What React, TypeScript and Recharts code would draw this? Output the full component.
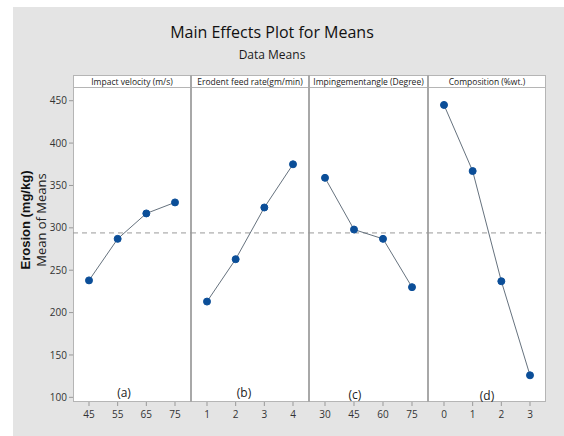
import React from 'react';
import { LineChart, Line, XAxis, YAxis, ReferenceLine } from 'recharts';

// factor levels and means
const velocityLevels = ['45', '55', '65', '75'];
const velocityMeans = [238, 287, 317, 330];

const feedLevels = ['1', '2', '3', '4'];
const feedMeans = [213, 263, 324, 375];

const angleLevels = ['30', '45', '60', '75'];
const angleMeans = [359, 298, 287, 230];

const compLevels = ['0', '1', '2', '3'];
const compMeans = [445, 367, 237, 126];

const factorNames = [
  'Impact velocity (m/s)',
  'Erodent feed rate(gm/min)',
  'Impingementangle (Degree)',
  'Composition (%wt.)',
];
const panelTags = ['(a)', '(b)', '(c)', '(d)'];
const grandMean = 294;
const yTicks = [100, 150, 200, 250, 300, 350, 400, 450];
const yDomain = [94.5, 465];

const panels = [
  { levels: velocityLevels, means: velocityMeans },
  { levels: feedLevels, means: feedMeans },
  { levels: angleLevels, means: angleMeans },
  { levels: compLevels, means: compMeans },
];

const edges = [73, 191, 309, 428, 546];
const plotTop = 88;
const plotBottom = 402;
const tagPos = [
  { x: 124, y: 393 },
  { x: 244, y: 393 },
  { x: 355, y: 395 },
  { x: 487, y: 396 },
];

const font = '"Open Sans", "Noto Sans", sans-serif';
const tickStyle = { fontSize: 10, fill: '#333', fontFamily: font };

const Panel = ({ idx }: { idx: number }) => {
  const p = panels[idx];
  const data = p.levels.map((l, i) => ({ x: l, y: p.means[i] }));
  const first = idx === 0;
  const yW = first ? 60 : 0;
  const w = edges[idx + 1] - edges[idx] + yW;
  return (
    <div style={{ position: 'absolute', left: edges[idx] - yW, top: plotTop }}>
      <LineChart width={w} height={436 - plotTop} data={data} margin={{ top: 0, right: 0, bottom: 0, left: 0 }}>
        <XAxis
          dataKey="x"
          height={436 - plotBottom}
          padding={{ left: 16, right: 16 }}
          axisLine={false}
          tickSize={4}
          tickMargin={5}
          tickLine={{ stroke: '#999' }}
          tick={tickStyle}
          interval={0}
        />
        <YAxis
          hide={!first}
          width={yW}
          domain={yDomain}
          ticks={yTicks}
          allowDataOverflow
          axisLine={false}
          tickSize={4}
          tickMargin={2}
          tickLine={{ stroke: '#999' }}
          tick={tickStyle}
        />
        <ReferenceLine y={grandMean} stroke="#999" strokeDasharray="5 4" />
        <Line
          type="linear"
          dataKey="y"
          stroke="#66727e"
          strokeWidth={1}
          dot={{ r: 3.5, fill: '#0b4e98', stroke: '#0b4e98', strokeWidth: 1 }}
          isAnimationActive={false}
        />
      </LineChart>
    </div>
  );
};

export default function App() {
  return (
    <div style={{ position: 'absolute', left: 0, top: 0, width: 564, height: 436, background: '#fff', overflow: 'hidden' }}>
      <div style={{ position: 'absolute', left: 13, top: 7, width: 551, height: 429, background: '#e4e4e4' }} />
      {/* header strip + plot frame */}
      <div style={{ position: 'absolute', left: 73, top: 75, width: 546 - 73, height: 13, background: '#fff', border: '1px solid #b5b5b5', boxSizing: 'border-box' }} />
      <div style={{ position: 'absolute', left: 73, top: plotTop - 1, width: 546 - 73, height: plotBottom - plotTop + 1, background: '#fff', border: '1px solid #b5b5b5', boxSizing: 'border-box' }} />
      {edges.slice(1, 4).map((x) => (
        <div key={x} style={{ position: 'absolute', left: x - 1, top: 75, width: 1.5, height: plotBottom - 75, background: '#a8a8a8' }} />
      ))}
      {factorNames.map((n, i) => (
        <div
          key={n}
          style={{
            position: 'absolute', left: edges[i], top: 75, width: edges[i + 1] - edges[i], height: 13,
            textAlign: 'center', fontFamily: font, fontSize: 8.5, lineHeight: '13px', color: '#222', whiteSpace: 'nowrap', overflow: 'hidden',
          }}
        >
          {n}
        </div>
      ))}
      <svg width={564} height={436} style={{ position: 'absolute', left: 0, top: 0 }}>
        <text x={272} y={38} textAnchor="middle" fontFamily={font} fontSize={16} fill="#111">Main Effects Plot for Means</text>
        <text x={272} y={59} textAnchor="middle" fontFamily={font} fontSize={12} fill="#1a1a1a">Data Means</text>
        <text transform="translate(30,220) rotate(-90)" textAnchor="middle" fontFamily="Arial, 'Liberation Sans', sans-serif" fontSize={13} fontWeight="bold" fill="#111">Erosion (mg/kg)</text>
        <text transform="translate(46,220) rotate(-90)" textAnchor="middle" fontFamily={font} fontSize={13} fill="#222">Mean of Means</text>
      </svg>
      {panels.map((_, i) => (
        <Panel key={i} idx={i} />
      ))}
      {panelTags.map((t, i) => (
        <div
          key={t}
          style={{
            position: 'absolute', left: tagPos[i].x - 15, top: tagPos[i].y - 8, width: 30, textAlign: 'center',
            fontFamily: font, fontSize: 12, lineHeight: '16px', color: '#222',
          }}
        >
          {t}
        </div>
      ))}
    </div>
  );
}
